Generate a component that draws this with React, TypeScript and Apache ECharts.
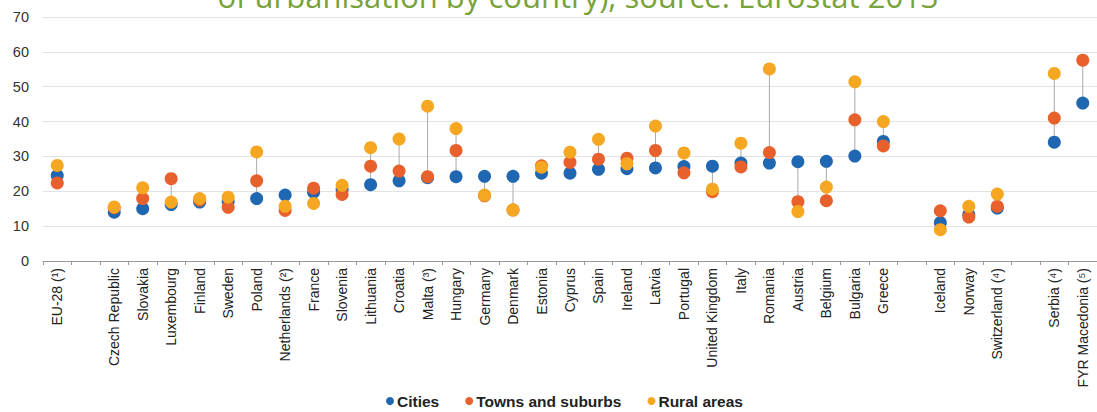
import React, { useEffect, useRef } from "react";
import * as echarts from "echarts";

// Share of population by degree of urbanisation, per country (%)
const categories: string[] = [
  "EU-28 (¹)", "", "Czech Republic", "Slovakia", "Luxembourg", "Finland", "Sweden",
  "Poland", "Netherlands (²)", "France", "Slovenia", "Lithuania", "Croatia",
  "Malta (³)", "Hungary", "Germany", "Denmark", "Estonia", "Cyprus", "Spain",
  "Ireland", "Latvia", "Portugal", "United Kingdom", "Italy", "Romania", "Austria",
  "Belgium", "Bulgaria", "Greece", "", "Iceland", "Norway", "Switzerland (⁴)", "",
  "Serbia (⁴)", "FYR Macedonia (⁵)",
];

const cities: (number | null)[] = [
  24.5, null, 14.0, 15.0, 16.2, 16.9, 17.1, 17.9, 18.9, 19.7, 20.5, 21.9, 23.0,
  23.9, 24.2, 24.3, 24.3, 25.2, 25.2, 26.3, 26.5, 26.7, 27.1, 27.2, 28.1, 28.1,
  28.5, 28.6, 30.1, 34.3, null, 11.0, 13.3, 15.2, null, 34.1, 45.3,
];

const towns: (number | null)[] = [
  22.4, null, 15.3, 17.9, 23.6, 17.5, 15.4, 23.0, 14.5, 20.9, 19.1, 27.2, 25.8,
  24.2, 31.7, 18.7, 14.6, 27.3, 28.3, 29.2, 29.5, 31.7, 25.3, 19.9, 27.0, 31.1,
  17.0, 17.3, 40.5, 33.0, null, 14.4, 12.6, 15.7, null, 41.0, 57.6,
];

const rural: (number | null)[] = [
  27.4, null, 15.5, 21.0, 16.9, 17.9, 18.3, 31.3, 15.7, 16.5, 21.7, 32.5, 35.0,
  44.4, 38.0, 18.9, 14.7, 26.9, 31.2, 34.9, 27.9, 38.7, 31.0, 20.6, 33.8, 55.1,
  14.2, 21.2, 51.4, 40.0, null, 9.0, 15.7, 19.2, null, 53.8, null,
];

const yTicks = { min: 0, max: 70, interval: 10 };

const seriesNames = ["Cities", "Towns and suburbs", "Rural areas"];
const seriesColors = ["#2067b2", "#e8602b", "#f6a722"];

const titleText = "of urbanisation by country), source: Eurostat 2013";

export default function App() {
  const ref = useRef<HTMLDivElement>(null);

  useEffect(() => {
    if (!ref.current) return;
    const chart = echarts.init(ref.current, undefined, { renderer: "svg" });

    // min-max range per country for the grey connector
    const ranges = categories
      .map((_, i) => {
        const vals = [cities[i], towns[i], rural[i]].filter(
          (v): v is number => v !== null
        );
        if (vals.length < 2) return null;
        return [i, Math.min(...vals), Math.max(...vals)];
      })
      .filter((r) => r !== null);

    const toData = (arr: (number | null)[]) => arr.map((v) => (v === null ? "-" : v));
    const font = "'Liberation Sans', Arial, sans-serif";

    chart.setOption({
      animation: false,
      textStyle: { fontFamily: font },
      graphic: [
        {
          type: "text",
          x: 578,
          y: 11,
          style: {
            text: titleText,
            fill: "#78a23a",
            fontSize: 31,
            fontFamily: "'Open Sans', sans-serif",
            textAlign: "center",
            textVerticalAlign: "bottom",
          },
        },
      ],
      grid: { left: 43, top: 17, width: 37 * 28.75, height: 244 },
      legend: {
        data: seriesNames,
        top: 388,
        left: 381,
        padding: 5,
        icon: "circle",
        itemWidth: 8,
        itemHeight: 8,
        itemGap: 26,
        textStyle: {
          fontSize: 15.5,
          fontWeight: "bold",
          color: "#222",
          fontFamily: font,
          padding: [0, 0, 0, -2],
        },
      },
      xAxis: {
        type: "category",
        data: categories,
        axisLine: { lineStyle: { color: "#999" } },
        axisTick: { show: true, length: 4, lineStyle: { color: "#999" } },
        axisLabel: {
          rotate: 90,
          interval: 0,
          margin: 7,
          fontSize: 14,
          color: "#222",
          fontFamily: font,
        },
        splitLine: { show: false },
      },
      yAxis: {
        type: "value",
        min: yTicks.min,
        max: yTicks.max,
        interval: yTicks.interval,
        axisLine: { show: false },
        axisTick: { show: false },
        axisLabel: { fontSize: 14.5, color: "#333", margin: 14, fontFamily: font },
        splitLine: { lineStyle: { color: "#e2e2e2" } },
      },
      series: [
        {
          type: "custom",
          name: "range",
          data: ranges,
          encode: { x: 0, y: [1, 2] },
          z: 1,
          silent: true,
          renderItem: (_params: any, api: any) => {
            const x = api.value(0);
            const p1 = api.coord([x, api.value(1)]);
            const p2 = api.coord([x, api.value(2)]);
            return {
              type: "line",
              shape: { x1: p1[0], y1: p1[1], x2: p2[0], y2: p2[1] },
              style: { stroke: "#aaaaaa", lineWidth: 1 },
            };
          },
        },
        ...[cities, towns, rural].map((arr, k) => ({
          type: "scatter",
          name: seriesNames[k],
          data: toData(arr),
          symbol: "circle",
          symbolSize: 13,
          z: 2 + k,
          itemStyle: { color: seriesColors[k], opacity: 1 },
        })),
      ],
    });

    return () => chart.dispose();
  }, []);

  return (
    <div
      ref={ref}
      style={{ position: "absolute", left: 0, top: 0, width: 1097, height: 412 }}
    />
  );
}
